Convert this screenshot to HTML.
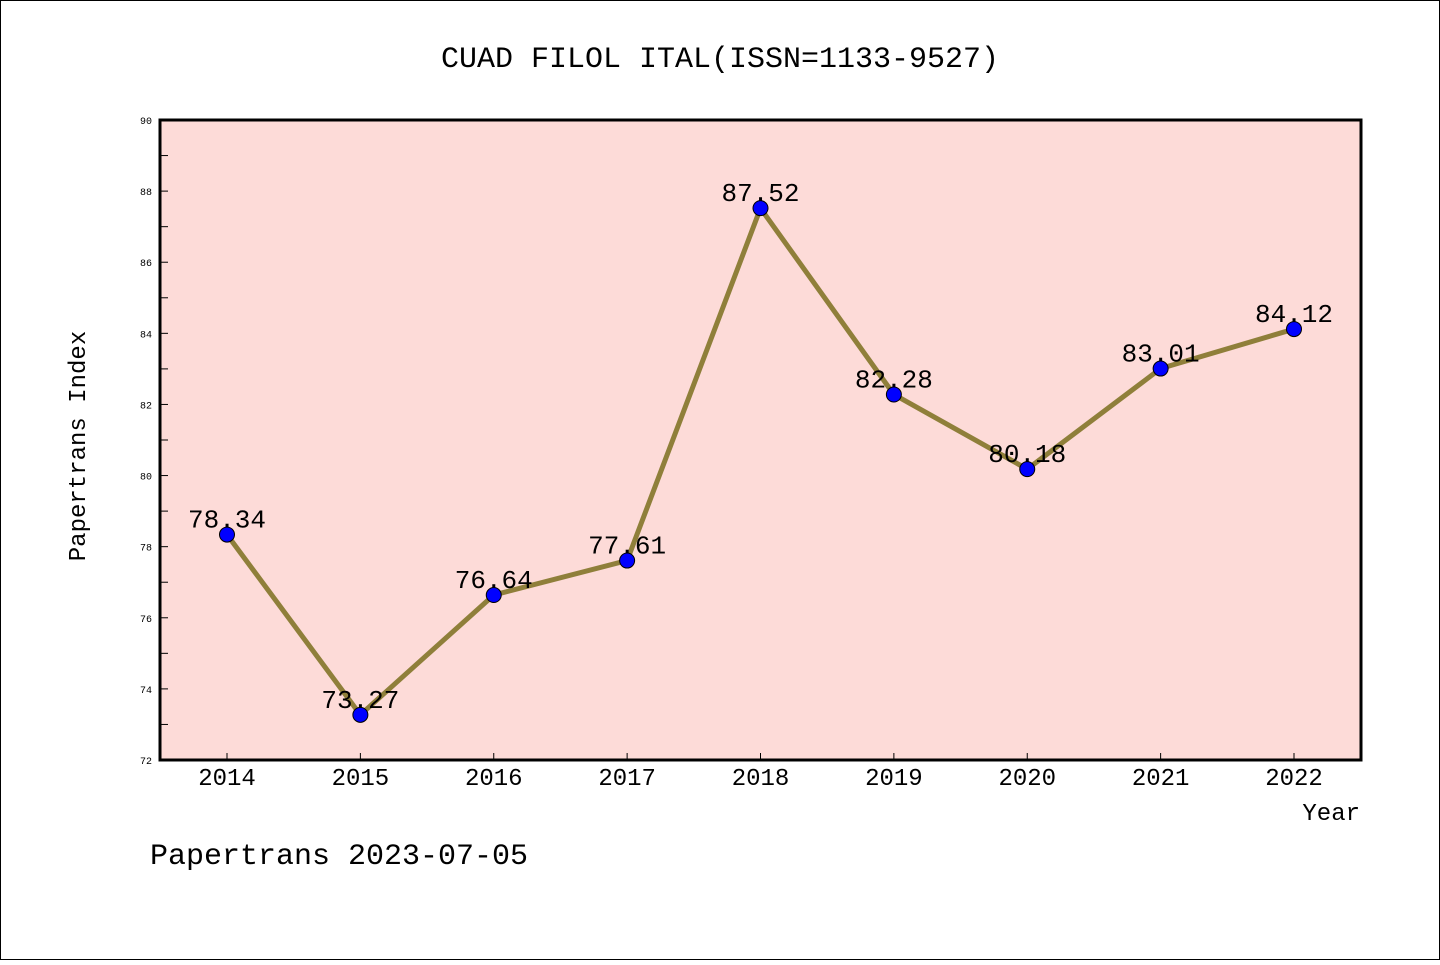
<!DOCTYPE html>
<html><head><meta charset="utf-8"><style>
body{margin:0;background:#fff}
svg text{font-family:"Liberation Mono","WenQuanYi Zen Hei",monospace}
</style></head><body>
<svg width="1440" height="960" viewBox="0 0 1440 960" xmlns="http://www.w3.org/2000/svg">
<rect x="0.5" y="0.5" width="1439" height="959" fill="#fff" stroke="#000"/>
<text x="720" y="67" text-anchor="middle" font-size="30">CUAD FILOL ITAL(ISSN=1133-9527)</text>
<rect x="160" y="120" width="1201" height="640" fill="#fddbd8"/>
<g id="axes"></g>
<g id="series"></g>
<rect x="160" y="120" width="1201" height="640" fill="none" stroke="#000" stroke-width="3"/>
<text x="85" y="446" text-anchor="middle" font-size="24" transform="rotate(-90 85 446)">Papertrans Index</text>
<text x="1360" y="820" text-anchor="end" font-size="24">Year</text>
<text x="150" y="864" font-size="30">Papertrans 2023-07-05</text>
</svg>
<script>
const years=["2014","2015","2016","2017","2018","2019","2020","2021","2022"];
const values=[78.34,73.27,76.64,77.61,87.52,82.28,80.18,83.01,84.12];
const labels=["78.34","73.27","76.64","77.61","87.52","82.28","80.18","83.01","84.12"];
const yTicks=[72,74,76,78,80,82,84,86,88,90];
const NS="http://www.w3.org/2000/svg";
const yMin=72,yMax=90,plotTop=120,plotBottom=760;
const y=v=>plotBottom-(v-yMin)/(yMax-yMin)*(plotBottom-plotTop);
const x=i=>227+i*(1294-227)/(years.length-1);
function mk(t,a,p){const e=document.createElementNS(NS,t);for(const k in a)e.setAttribute(k,a[k]);p.appendChild(e);return e;}
const ax=document.getElementById('axes'),se=document.getElementById('series');
for(let v=yMin;v<=yMax;v++){
 const l=mk('line',{x1:160,x2:168,y1:y(v),y2:y(v),stroke:'#000','stroke-width':1},ax);
 
 
}
yTicks.forEach(v=>{
 const t=mk('text',{x:152,y:y(v)+4,'text-anchor':'end','font-size':10},ax);t.textContent=v;
 
 
});
years.forEach((yr,i)=>{
 const l=mk('line',{x1:x(i),x2:x(i),y1:760,y2:753,stroke:'#000','stroke-width':1},ax);
 
 
 const t=mk('text',{x:x(i),y:785,'text-anchor':'middle','font-size':24},ax);t.textContent=yr;
 
 
});
const pl=mk('polyline',{points:values.map((v,i)=>x(i)+','+y(v)).join(' '),fill:'none',stroke:'#8f7f3a','stroke-width':5},se);


values.forEach((v,i)=>{
 const c=mk('circle',{cx:x(i),cy:y(v),r:7.5,fill:'#0000ff',stroke:'#000','stroke-width':1},se);
 
 
 const t=mk('text',{x:x(i),y:y(v)-7,'text-anchor':'middle','font-size':26},se);t.textContent=labels[i];
 
 
});
</script>
</body></html>
